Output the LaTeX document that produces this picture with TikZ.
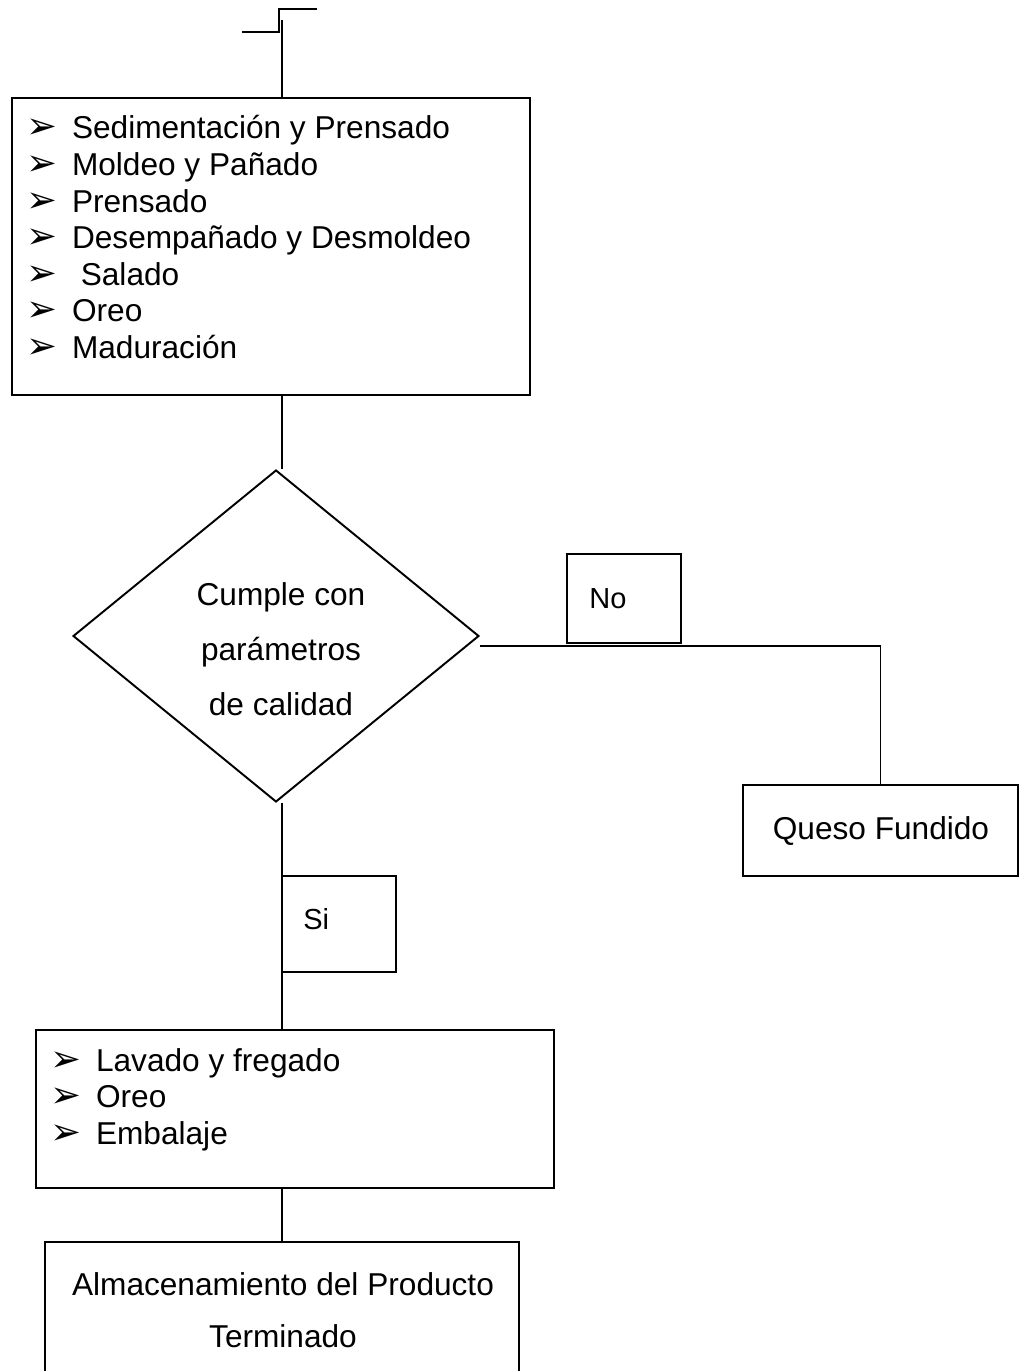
\documentclass[tikz,border=0pt]{standalone}
\usepackage{fontspec}
\setmainfont{Liberation Sans}
\newfontfamily\dejavu{DejaVu Sans}
\usetikzlibrary{shapes.geometric,fit,positioning}

\newcommand{\flecha}{\makebox[26pt][l]{\dejavu\fontsize{21}{21}\selectfont\symbol{"27A2}}}

\tikzset{
  caja/.style={draw, line width=1.1pt, inner sep=0pt},
  linea/.style={line width=1.1pt},
  lista/.style={anchor=base west, inner sep=0pt, font=\fontsize{18}{20.8}\selectfont},
  texto/.style={inner sep=0pt, align=center},
  chico/.style={inner sep=0pt, font=\fontsize{16.5}{19}\selectfont}
}

\begin{document}
\begin{tikzpicture}[x=0.02cm, y=-0.02cm]
\useasboundingbox (0,0) rectangle (1026,1371);

% marca de entrada
\draw[linea] (242,32) -- (279,32) -- (279,9) -- (317,9);
\coordinate (inicio) at (282,20);
\coordinate (eje) at (282,0);

% etapas del queso
\node[caja, fit={(12,98) (530,395)}] (etapas) {};
\node[lista] (etapastxt) at (26,139) {\begin{tabular}[t]{@{}l@{}}
  \flecha Sedimentación y Prensado\\
  \flecha Moldeo y Pañado\\
  \flecha Prensado\\
  \flecha Desempañado y Desmoldeo\\
  \flecha\ Salado\\
  \flecha Oreo\\
  \flecha Maduración
\end{tabular}};

% decision
\node[draw, line width=1.1pt, diamond, inner sep=0pt,
      minimum width=8.12cm, minimum height=6.64cm] (calidad) at (276,636) {};
\node[texto, font=\fontsize{18}{31.2}\selectfont] (calidadtxt) at (281,649)
  {Cumple con\\parámetros\\de calidad};

\node[caja, fit={(567,554) (681,643)}] (no) {};
\node[chico, anchor=west] (notxt) at (589,599) {No};

\node[caja, fit={(743,785) (1018,876)}] (queso) {};
\node[inner sep=0pt, font=\fontsize{18}{20}\selectfont] (quesotxt) at (881,831) {Queso Fundido};

\node[caja, fit={(282,876) (396,972)}] (si) {};
\node[chico, anchor=west] (sitxt) at (303,919) {Si};

% acabado
\node[caja, fit={(36,1030) (554,1188)}] (lavado) {};
\node[lista] (lavadotxt) at (50,1071) {\begin{tabular}[t]{@{}l@{}}
  \flecha Lavado y fregado\\
  \flecha Oreo\\
  \flecha Embalaje
\end{tabular}};

\node[caja, fit={(45,1242) (519,1400)}] (almacen) {};
\node[anchor=base, inner sep=0pt, font=\fontsize{18}{30}\selectfont] (almacentxt) at (283,1295)
  {\begin{tabular}[t]{@{}c@{}}Almacenamiento del Producto\\Terminado\end{tabular}};

% conectores
\draw[linea] (inicio) -- (etapas.north -| inicio);
\draw[linea] (etapas.south -| eje) -- (calidad.north -| eje);
\draw[linea] (calidad.south -| eje) -- (lavado.north -| eje);
\draw[linea] (lavado.south -| eje) -- (almacen.north -| eje);
\draw[linea] ([yshift=-0.2cm]calidad.east) -| (queso.north);
\end{tikzpicture}
\end{document}
